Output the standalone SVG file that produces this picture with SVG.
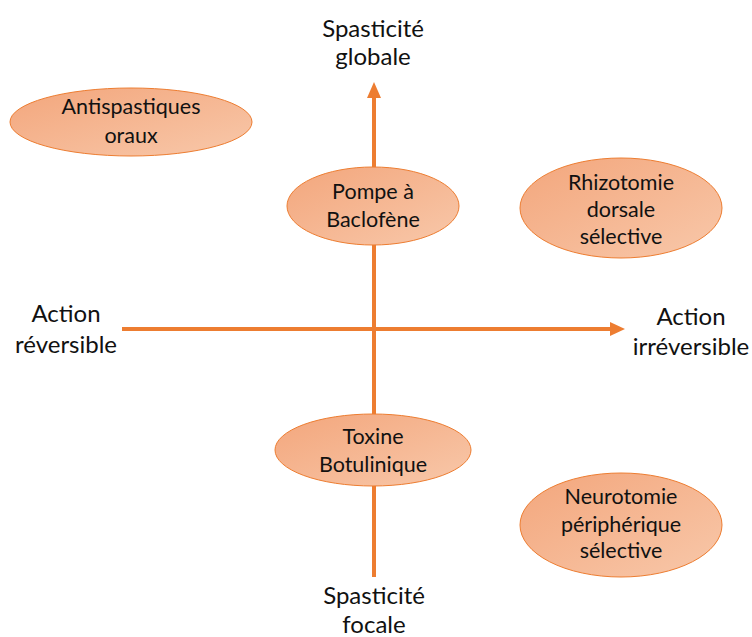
<svg xmlns="http://www.w3.org/2000/svg" width="752" height="637" viewBox="0 0 752 637">
<style>
.t{font-family:Lato,"Liberation Sans",sans-serif;fill:#111111;text-anchor:middle}
.n{font-size:21.5px}
.l{font-size:24px}
.e{fill:url(#g);stroke:#ed7d31;stroke-width:1}
.ax{stroke:#ed7d31;stroke-width:4;fill:none}
.ah{fill:#ed7d31}
</style>
<defs>
<linearGradient id="g" x1="0" y1="0" x2="1" y2="1">
<stop offset="0" stop-color="#f3a67c"/>
<stop offset="1" stop-color="#f8c8aa"/>
</linearGradient>
</defs>
<rect width="752" height="637" fill="#ffffff"/>
<g id="connectors">
<line class="ax" x1="374" y1="95" x2="374" y2="577"/>
<polygon class="ah" points="374,82 381,98 367,98"/>
<line class="ax" x1="122" y1="329" x2="612" y2="329"/>
<polygon class="ah" points="625,329 610,322 610,336"/>
</g>
<g id="label-top"><text class="t l" x="373" y="37">Spasticité</text><text class="t l" x="373" y="65">globale</text></g>
<g id="label-bottom"><text class="t l" x="374" y="604">Spasticité</text><text class="t l" x="374" y="633">focale</text></g>
<g id="label-left"><text class="t l" x="66" y="322">Action</text><text class="t l" x="66" y="353">réversible</text></g>
<g id="label-right"><text class="t l" x="691" y="325">Action</text><text class="t l" x="691" y="355">irréversible</text></g>
<g id="antispastiques"><ellipse class="e" cx="131" cy="122" rx="121" ry="34"/><text class="t n" x="131" y="114">Antispastiques</text><text class="t n" x="131" y="143">oraux</text></g>
<g id="pompe"><ellipse class="e" cx="373" cy="206" rx="86" ry="39"/><text class="t n" x="373" y="199">Pompe à</text><text class="t n" x="373" y="227">Baclofène</text></g>
<g id="rhizotomie"><ellipse class="e" cx="621" cy="208" rx="101" ry="50"/><text class="t n" x="621" y="190">Rhizotomie</text><text class="t n" x="621" y="217">dorsale</text><text class="t n" x="621" y="244">sélective</text></g>
<g id="toxine"><ellipse class="e" cx="373" cy="450" rx="98" ry="36"/><text class="t n" x="373" y="444">Toxine</text><text class="t n" x="373" y="472">Botulinique</text></g>
<g id="neurotomie"><ellipse class="e" cx="621" cy="525" rx="101" ry="52"/><text class="t n" x="621" y="504">Neurotomie</text><text class="t n" x="621" y="532">périphérique</text><text class="t n" x="621" y="558">sélective</text></g>
</svg>
